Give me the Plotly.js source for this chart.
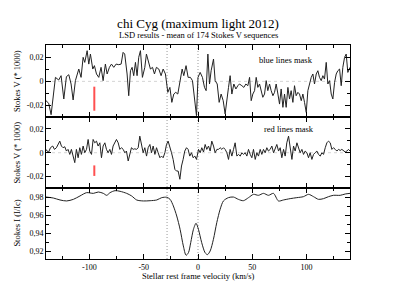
<!DOCTYPE html>
<html>
<head>
<meta charset="utf-8">
<script src="https://cdn.plot.ly/plotly-3.0.1.min.js"></script>
<style>html,body{margin:0;padding:0;background:#fff;}#chart{width:396px;height:306px;}</style>
</head>
<body>
<div id="chart"></div>
<script>
// ---- Data: blue lines mask (Stokes V, top panel) ----
const blueVel = [-140,-137.5,-135.3,-131.3,-128.3,-126.1,-123.6,-121.2,-119.0,-116.9,-115.0,-112.9,-109.8,-107.7,-105.8,-104.3,-102.1,-100.6,-99.1,-96.9,-95.4,-93.5,-91.4,-89.3,-87.4,-85.3,-83.7,-81.6,-79.7,-77.6,-75.4,-73.0,-70.8,-69.0,-67.5,-65.3,-63.8,-62.2,-60.7,-59.2,-57.6,-56.1,-54.6,-53.0,-51.2,-49.0,-47.5,-45.3,-43.8,-41.9,-40.1,-38.3,-36.1,-34.0,-32.1,-30.0,-27.8,-25.9,-24.1,-22.3,-20.5,-18.6,-16.8,-14.6,-13.1,-11.0,-9.1,-7.0,-5.1,-3.3,-1.4,
  0,2.0,4.1,6.0,7.5,9.1,10.6,12.1,14.3,15.8,17.7,19.5,21.3,23.2,25.0,26.6,28.1,29.6,31.2,33.0,34.9,36.7,38.2,40.4,42.2,44.1,45.9,47.5,49.0,50.5,52.1,53.6,55.1,56.7,58.2,59.7,61.3,62.8,64.3,65.9,67.4,69.0,70.5,72.0,73.6,75.1,76.6,78.2,79.7,81.2,82.8,84.3,85.8,87.4,88.9,90.4,92.0,93.5,95.1,96.6,98.1,99.7,101.2,102.7,104.3,105.8,107.3,108.9,110.4,111.9,113.5,115.0,116.5,118.1,119.6,121.2,122.7,124.2,125.8,127.3,128.8,130.4,131.9,133.4,135.0,136.5,138.0,140];
const blueV = [-16.0e-3,-18.2e-3,-27.6e-3,3.3e-3,1.1e-3,4.7e-3,-14.6e-3,3.9e-3,5.5e-3,-2.2e-3,-15.4e-3,0.6e-3,10.2e-3,3.3e-3,19.9e-3,15.7e-3,25.4e-3,14.3e-3,22.6e-3,10.2e-3,13.0e-3,6.1e-3,3.3e-3,11.6e-3,0.6e-3,14.3e-3,6.1e-3,11.6e-3,14.3e-3,11.6e-3,14.3e-3,13.8e-3,14.3e-3,24.0e-3,22.6e-3,6.1e-3,-11.9e-3,8.8e-3,11.6e-3,4.7e-3,15.7e-3,4.7e-3,19.9e-3,25.4e-3,3.3e-3,11.6e-3,22.6e-3,14.3e-3,10.2e-3,11.6e-3,6.1e-3,11.6e-3,10.2e-3,4.7e-3,10.2e-3,6.1e-3,-9.1e-3,-5.0e-3,-17.4e-3,-10.5e-3,-9.1e-3,-10.5e-3,-2.2e-3,10.2e-3,4.7e-3,13.0e-3,3.3e-3,3.3e-3,0.6e-3,-14.6e-3,-28.4e-3,
  3.3e-3,7.4e-3,3.3e-3,-5.0e-3,-7.7e-3,22.6e-3,-2.2e-3,8.8e-3,18.5e-3,0.6e-3,-2.2e-3,-17.4e-3,-10.5e-3,-16.0e-3,-27.0e-3,-13.2e-3,-5.0e-3,4.7e-3,-10.5e-3,-2.2e-3,-6.3e-3,-3.6e-3,-2.2e-3,-3.6e-3,-5.0e-3,-2.2e-3,-3.6e-3,3.3e-3,-16.0e-3,-10.5e-3,-7.7e-3,3.3e-3,-5.0e-3,-2.2e-3,-9.1e-3,-13.2e-3,-10.5e-3,0.6e-3,-7.7e-3,-2.2e-3,-7.7e-3,-11.9e-3,-9.1e-3,-2.2e-3,-10.5e-3,-18.8e-3,-6.3e-3,-21.5e-3,-10.5e-3,-21.5e-3,-5.0e-3,-14.6e-3,-7.7e-3,-17.4e-3,-3.6e-3,-11.9e-3,-9.1e-3,-10.5e-3,-16.0e-3,-10.5e-3,-17.4e-3,-25.7e-3,-7.7e-3,-2.2e-3,3.3e-3,6.1e-3,-2.2e-3,6.1e-3,8.8e-3,3.3e-3,0.6e-3,4.7e-3,1.9e-3,15.7e-3,-2.2e-3,0.6e-3,-10.5e-3,-14.6e-3,-0.8e-3,6.1e-3,8.8e-3,10.2e-3,-3.6e-3,11.6e-3,19.9e-3,22.6e-3,7.4e-3,11.6e-3];

// ---- Data: red lines mask (Stokes V, middle panel) ----
const redVel = [-140,-139.0,-137.5,-135.9,-133.8,-132.2,-130.4,-128.9,-127.3,-125.8,-124.3,-122.7,-121.2,-119.7,-118.1,-116.6,-115.0,-113.5,-112.0,-110.4,-108.9,-107.4,-105.8,-104.3,-102.7,-101.2,-99.7,-98.1,-96.6,-95.1,-93.5,-92.0,-90.4,-88.9,-87.4,-85.8,-84.3,-82.8,-81.2,-79.7,-78.2,-76.6,-75.1,-73.5,-72.0,-70.5,-68.9,-67.4,-65.9,-64.3,-62.8,-61.3,-59.7,-58.2,-56.6,-55.1,-53.6,-52.0,-50.5,-49.0,-47.4,-45.9,-44.3,-42.8,-41.3,-39.7,-38.2,-36.7,-35.1,-33.6,-32.1,-30.5,-29.0,-27.5,-25.9,-24.4,-22.9,-21.3,-19.8,-18.3,-16.7,-15.2,-13.7,-12.2,-10.6,-9.1,-7.6,-6.0,-4.5,-2.9,-1.4,
  0.5,2.0,3.5,5.1,6.6,8.1,9.7,11.2,12.7,14.3,15.8,17.4,18.9,20.4,22.0,23.5,25.0,26.6,28.1,29.6,31.2,32.7,34.2,35.8,37.3,38.9,40.4,41.9,43.5,45.0,46.5,48.1,49.6,51.1,52.7,54.2,55.7,57.3,58.8,60.3,61.9,63.4,64.9,66.5,68.0,69.6,71.1,72.6,74.2,75.7,77.2,78.8,80.3,81.8,83.4,84.9,86.5,88.0,89.5,91.1,92.6,94.1,95.7,97.2,98.7,100.3,101.8,103.3,104.9,106.4,107.9,109.5,111.0,112.6,114.1,115.6,117.2,118.7,120.2,121.8,123.3,124.8,126.4,127.9,129.4,131.0,132.5,134.0,135.6,137.1,138.6,140];
const redV = [2.8e-3,1.4e-3,0.6e-3,4.2e-3,5.6e-3,2.8e-3,4.2e-3,6.9e-3,9.7e-3,5.6e-3,4.2e-3,5.0e-3,1.4e-3,2.8e-3,-1.4e-3,2.8e-3,-2.8e-3,-8.3e-3,2.8e-3,-4.2e-3,4.2e-3,-1.4e-3,5.6e-3,0,2.8e-3,11.1e-3,1.4e-3,-1.4e-3,11.1e-3,8.3e-3,9.7e-3,5.6e-3,8.3e-3,-4.2e-3,5.6e-3,8.3e-3,2.8e-3,0,2.8e-3,-1.4e-3,5.6e-3,8.3e-3,11.1e-3,8.3e-3,2.8e-3,4.2e-3,2.8e-3,0,1.4e-3,-6.9e-3,0,4.2e-3,2.8e-3,3.3e-3,2.8e-3,4.2e-3,13.9e-3,6.9e-3,0,4.2e-3,-2.8e-3,4.2e-3,6.9e-3,0,5.6e-3,-1.4e-3,4.2e-3,0,-4.2e-3,-2.8e-3,-4.2e-3,0,6.9e-3,9.7e-3,5.6e-3,0,-5.6e-3,-13.9e-3,-15.3e-3,-15.3e-3,-22.2e-3,-11.1e-3,-5.6e-3,1.4e-3,4.2e-3,2.8e-3,-2.8e-3,0,-4.2e-3,-2.8e-3,-5.6e-3,
  2.8e-3,0,4.2e-3,0.6e-3,6.9e-3,2.8e-3,5.6e-3,1.4e-3,9.7e-3,5.6e-3,0,2.8e-3,2.8e-3,4.2e-3,2.8e-3,4.2e-3,2.8e-3,0,-5.6e-3,2.8e-3,-2.8e-3,2.8e-3,8.3e-3,-2.8e-3,-1.4e-3,-2.8e-3,0,-1.4e-3,0,-2.8e-3,2.8e-3,-1.4e-3,-4.2e-3,2.8e-3,-5.6e-3,0,-2.8e-3,2.8e-3,-1.4e-3,2.8e-3,0,4.2e-3,1.4e-3,2.8e-3,5.6e-3,0,4.2e-3,6.9e-3,1.4e-3,4.2e-3,-4.2e-3,2.8e-3,-2.8e-3,8.3e-3,13.9e-3,4.2e-3,-5.6e-3,5.6e-3,1.4e-3,8.3e-3,4.2e-3,0,2.8e-3,-1.4e-3,1.4e-3,0,-4.2e-3,0,-5.6e-3,-1.4e-3,0,1.4e-3,-1.4e-3,-2.8e-3,0,-1.4e-3,4.2e-3,8.3e-3,9.7e-3,8.3e-3,2.8e-3,4.2e-3,2.8e-3,1.4e-3,2.8e-3,1.9e-3,2.8e-3,1.4e-3,0.6e-3,1.4e-3,2.8e-3,1.4e-3];

// ---- Data: Stokes I (bottom panel) ----
const intVel = [-140,-133.3,-127.1,-121.0,-114.8,-108.7,-102.6,-96.4,-91.8,-87.2,-84.1,-81.0,-76.4,-71.8,-65.7,-61.1,-56.5,-50.3,-44.1,-38.0,-33.4,-28.8,-25.7,-22.7,-19.6,-16.5,-13.5,-11.0,-8.8,-6.7,-4.2,-1.8,0.4,3.4,6.5,8.7,11.2,14.2,17.3,20.4,23.4,28.0,32.6,37.2,41.8,46.5,51.1,55.7,60.3,64.9,69.5,74.1,78.7,84.9,91.0,97.1,101.8,106.4,111.0,115.6,120.2,124.8,131.0,135.6,140];
const intI = [0.9807,0.9796,0.9774,0.9763,0.9781,0.9819,0.9856,0.9848,0.9863,0.9848,0.9826,0.9856,0.9878,0.9871,0.9848,0.9819,0.9774,0.9763,0.9766,0.9774,0.9800,0.9804,0.9781,0.9707,0.9595,0.9446,0.9260,0.9156,0.9185,0.9297,0.9446,0.9513,0.9446,0.9297,0.9185,0.9163,0.9204,0.9334,0.9521,0.9670,0.9763,0.9800,0.9807,0.9781,0.9766,0.9800,0.9837,0.9826,0.9848,0.9826,0.9848,0.9763,0.9774,0.9789,0.9800,0.9811,0.9837,0.9811,0.9781,0.9789,0.9811,0.9826,0.9826,0.9841,0.9848];

// ---- Error-bar indicators (red) ----
const errVel = [-95.5, -95.5];
const blueErr = [-4.4e-3, -24.3e-3];
const redErr = [-10.6e-3, -19.4e-3];

// ---- Reference velocities (dotted lines) ----
const markVel = [-28.5, 0];

// ---- Tick labels ----
const xTickVals = [-100, -50, 0, 50, 100];
const xTickText = ['-100', '-50', '0', '50', '100'];
const vTickVals = [-0.02, 0, 0.02];
const vTickText = ['-0,02', '0', '0,02'];
const iTickVals = [0.92, 0.94, 0.96, 0.98];
const iTickText = ['0,92', '0,94', '0,96', '0,98'];

const FONT = 'Liberation Serif, Times New Roman, serif';
const lineStyle = {color: '#222', width: 1};

const traces = [
  {x: intVel, y: intI, xaxis: 'x', yaxis: 'y', mode: 'lines', line: {color: '#222', width: 1, shape: 'spline', smoothing: 0.8}},
  {x: redVel, y: redV, xaxis: 'x2', yaxis: 'y2', mode: 'lines', line: lineStyle},
  {x: blueVel, y: blueV, xaxis: 'x3', yaxis: 'y3', mode: 'lines', line: lineStyle},
  {x: errVel, y: redErr, xaxis: 'x2', yaxis: 'y2', mode: 'lines', line: {color: '#ff5050', width: 2}},
  {x: errVel, y: blueErr, xaxis: 'x3', yaxis: 'y3', mode: 'lines', line: {color: '#ff5050', width: 2}}
];

function xAx(anchor, labels) {
  return {
    anchor: anchor, domain: [0, 1], range: [-140, 140],
    tickmode: 'array', tickvals: xTickVals, ticktext: xTickText, showticklabels: labels,
    ticks: 'inside', ticklen: 5, tickwidth: 1, tickcolor: '#000',
    minor: {tickmode: 'linear', tick0: 0, dtick: 25, ticks: 'inside', ticklen: 3, tickcolor: '#000', showgrid: false},
    showline: true, linecolor: '#000', linewidth: 1, mirror: 'ticks',
    showgrid: false, zeroline: false, tickfont: {family: FONT, size: 8, color: '#000'}
  };
}
function yAx(anchor, domain, range, vals, text) {
  return {
    anchor: anchor, domain: domain, range: range,
    tickmode: 'array', tickvals: vals, ticktext: text,
    ticks: 'inside', ticklen: 5, tickwidth: 1, tickcolor: '#000',
    minor: {tickmode: 'linear', tick0: 0, dtick: 0.01, ticks: 'inside', ticklen: 3, tickcolor: '#000', showgrid: false},
    showline: true, linecolor: '#000', linewidth: 1, mirror: 'ticks',
    showgrid: false, zeroline: false, tickfont: {family: FONT, size: 8, color: '#000'}
  };
}

const shapes = [];
markVel.forEach(v => shapes.push({type: 'line', xref: 'x', yref: 'paper', x0: v, x1: v, y0: 0, y1: 1, line: {color: '#9a9a9a', width: 1, dash: '1px,2px'}, layer: 'below'}));
['y2', 'y3'].forEach(yr => shapes.push({type: 'line', xref: 'paper', yref: yr, x0: 0, x1: 1, y0: 0, y1: 0, line: {color: '#d4d4d4', width: 1, dash: '3px,3px'}, layer: 'below'}));

const annFont = {family: FONT, size: 8.5, color: '#000'};
const layout = {
  width: 396, height: 306,
  margin: {l: 46, r: 46, t: 45, b: 47, pad: 0},
  paper_bgcolor: '#fff', plot_bgcolor: '#fff',
  showlegend: false,
  font: {family: FONT, size: 8, color: '#000'},
  title: {text: 'chi Cyg (maximum light 2012)', font: {family: FONT, size: 13, color: '#000'}, x: 0.5, xanchor: 'center', xref: 'paper', y: 0.922, yref: 'container', yanchor: 'middle'},
  xaxis: xAx('y', true),
  xaxis2: Object.assign(xAx('y2', false), {matches: 'x'}),
  xaxis3: Object.assign(xAx('y3', false), {matches: 'x'}),
  yaxis: yAx('x', [0, 0.3318], [0.9114, 0.9908], iTickVals, iTickText),
  yaxis2: yAx('x2', [0.3318, 0.6636], [-0.0295, 0.0299], vTickVals, vTickText),
  yaxis3: yAx('x3', [0.6636, 1], [-0.0295, 0.0301], vTickVals, vTickText),
  shapes: shapes,
  annotations: [
    {text: 'LSD results - mean of 174 Stokes V sequences', xref: 'paper', yref: 'paper', x: 0.5, y: 1.0467, xanchor: 'center', yanchor: 'middle', showarrow: false, font: annFont},
    {text: 'Stellar rest frame velocity (km/s)', xref: 'paper', yref: 'paper', x: 0.5, y: -0.08, xanchor: 'center', yanchor: 'middle', showarrow: false, font: annFont},
    {text: 'Stokes V (* 1000)', xref: 'paper', yref: 'paper', x: -0.095, y: 0.8318, xanchor: 'center', yanchor: 'middle', textangle: -90, showarrow: false, font: annFont},
    {text: 'Stokes V (* 1000)', xref: 'paper', yref: 'paper', x: -0.095, y: 0.4977, xanchor: 'center', yanchor: 'middle', textangle: -90, showarrow: false, font: annFont},
    {text: 'Stokes I (I/Ic)', xref: 'paper', yref: 'paper', x: -0.095, y: 0.1659, xanchor: 'center', yanchor: 'middle', textangle: -90, showarrow: false, font: annFont},
    {text: 'blue lines mask', xref: 'x3', yref: 'y3', x: 81, y: 0.0179, xanchor: 'center', yanchor: 'middle', showarrow: false, font: annFont},
    {text: 'red lines mask', xref: 'x2', yref: 'y2', x: 84, y: 0.0195, xanchor: 'center', yanchor: 'middle', showarrow: false, font: annFont}
  ]
};

Plotly.newPlot('chart', traces, layout, {staticPlot: true, displayModeBar: false});
</script>
</body>
</html>
